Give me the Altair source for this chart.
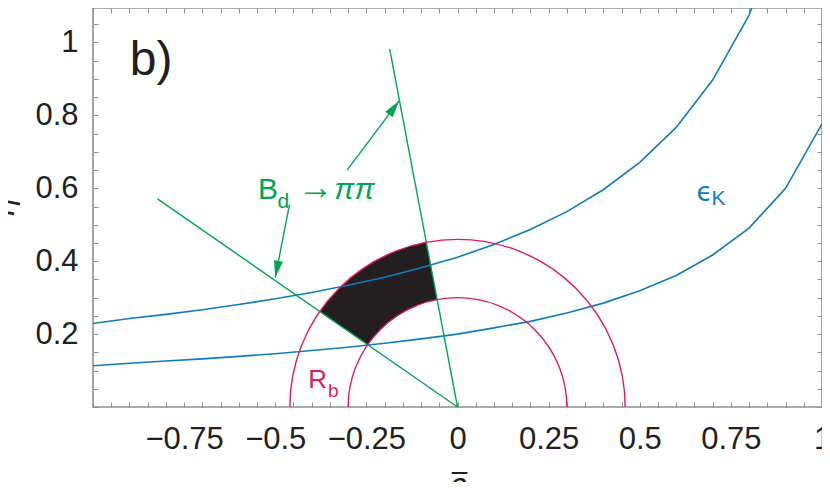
import math
import altair as alt
import pandas as pd

# ---------------- data ----------------
rho_grid = [-1.0, -0.9, -0.8, -0.7, -0.6, -0.5, -0.4, -0.3, -0.2, -0.1,
            0.0, 0.1, 0.2, 0.3, 0.4, 0.5, 0.6, 0.7, 0.8, 0.9, 1.0]
# epsilon_K hyperbolas (eta read at each rho of the grid)
eta_eps_upper = [0.229, 0.243, 0.254, 0.267, 0.281, 0.297, 0.314, 0.334, 0.356, 0.382,
                 0.411, 0.446, 0.487, 0.536, 0.596, 0.671, 0.767, 0.897, 1.075, 1.35]
eta_eps_lower = [0.113, 0.120, 0.126, 0.132, 0.139, 0.146, 0.155, 0.164, 0.175, 0.187,
                 0.200, 0.217, 0.235, 0.258, 0.285, 0.319, 0.361, 0.417, 0.491, 0.600, 0.777]

# B_d -> pi pi rays, both starting at the origin
ray_end_rho = [-0.823, -0.186]
ray_end_eta = [0.571, 0.982]

# R_b circles (centred at the origin)
rb_radii = [0.30, 0.46]

# annotation arrows
arrow_from_rho = [-0.303, -0.461]
arrow_from_eta = [0.650, 0.555]
arrow_to_rho = [-0.160, -0.500]
arrow_to_eta = [0.840, 0.355]

x_tick_values = [round(-1 + 0.05 * i, 2) for i in range(41)]
y_tick_values = [round(0.05 * i, 2) for i in range(22)]

BLUE = "#0f7cc2"
GREEN = "#00a651"
RED = "#e5195c"
INK = "#231f20"
FRAME = "#8f8f8f"

# text labels: text, rho, eta (left / baseline), font size, colour
label_text = ["b)", "B", "d", "\u2192", "R", "b", "K"]
label_rho = [-0.899, -0.547, -0.494, -0.438, -0.4095, -0.355, 0.697]
label_eta = [0.9116, 0.5714, 0.547, 0.5714, 0.0517, 0.0272, 0.555]
label_size = [48, 30, 21, 36, 26, 19, 21]
label_color = [INK, GREEN, GREEN, GREEN, RED, RED, BLUE]

W, H = 729, 399
X_MIN, X_MAX = -1.0, 1.0
PX_PER_UNIT = W / (X_MAX - X_MIN)
Y_MAX = H / PX_PER_UNIT

xs = alt.Scale(domain=[X_MIN, X_MAX], nice=False, zero=False)
ys = alt.Scale(domain=[0, Y_MAX], nice=False, zero=False)
rs = alt.Scale(type="linear", domain=[0, 1], range=[0, PX_PER_UNIT], nice=False)

# ---------------- tables ----------------
curves_df = pd.DataFrame({
    "rho": rho_grid[:len(eta_eps_upper)] + rho_grid,
    "eta": eta_eps_upper + eta_eps_lower,
    "curve": ["upper"] * len(eta_eps_upper) + ["lower"] * len(eta_eps_lower),
})

rays_df = pd.DataFrame({"x0": [0.0, 0.0], "y0": [0.0, 0.0],
                        "x1": ray_end_rho, "y1": ray_end_eta})


def vega_theta(x, y):
    return (math.pi / 2 - math.atan2(y, x)) % (2 * math.pi)


ray_thetas = sorted(vega_theta(x, y) for x, y in zip(ray_end_rho, ray_end_eta))
sector_df = pd.DataFrame({"cx": [0.0], "cy": [0.0],
                          "r_in": [min(rb_radii)], "r_out": [max(rb_radii)],
                          "t0": [ray_thetas[0]], "t1": [ray_thetas[1]]})

circles_df = pd.DataFrame({"cx": [0.0, 0.0], "cy": [0.0, 0.0], "r": rb_radii,
                           "t0": [0.0, 0.0], "t1": [2 * math.pi, 2 * math.pi]})

arrows_df = pd.DataFrame({"x0": arrow_from_rho, "y0": arrow_from_eta,
                          "x1": arrow_to_rho, "y1": arrow_to_eta})
arrows_df["angle"] = [
    math.degrees(math.atan2(x1 - x0, y1 - y0)) % 360
    for x0, y0, x1, y1 in zip(arrow_from_rho, arrow_from_eta, arrow_to_rho, arrow_to_eta)
]

labels_df = pd.DataFrame({"text": label_text, "x": label_rho, "y": label_eta,
                          "size": label_size, "color": label_color})
pipi_df = pd.DataFrame({"text": ["\u03c0\u03c0"], "x": [-0.338], "y": [0.5714]})
eps_df = pd.DataFrame({"text": ["\u03f5"], "x": [0.6558], "y": [0.566]})

# ---------------- axes ----------------
x_bottom = alt.Axis(
    orient="bottom", values=x_tick_values,
    labelExpr="abs(datum.value*4 - round(datum.value*4)) < 0.001 && datum.value > -0.999 ? format(datum.value, '.2~f') : ''",
    tickSize=5, offset=-5, tickColor=FRAME, tickWidth=1, domain=False, grid=False,
    labelFont="Liberation Sans", labelFontSize=31, labelColor=INK, labelPadding=17,
    labelFlush=False, labelOverlap=False, labelBound=False,
    title="\u03c1\u0305", titleFont="DejaVu Sans", titleFontSize=30, titleFontStyle="italic",
    titleFontWeight="normal", titleColor=INK, titleX=364, titleY=92,
    titleBaseline="alphabetic", titleAlign="center",
)
y_left = alt.Axis(
    orient="left", values=y_tick_values,
    labelExpr="abs(datum.value*5 - round(datum.value*5)) < 0.001 && datum.value > 0.001 ? format(datum.value, '.1~f') : ''",
    tickSize=5, offset=-5, tickColor=FRAME, tickWidth=1, domain=False, grid=False,
    labelFont="Liberation Sans", labelFontSize=31, labelColor=INK, labelPadding=15,
    labelOverlap=False, labelBound=False, labelFlush=False,
    title="\u03b7", titleFont="DejaVu Sans", titleFontSize=30, titleFontStyle="italic",
    titleFontWeight="normal", titleColor=INK, titleX=-94, titleY=199,
    titleBaseline="middle", titleAlign="center", titleAngle=270,
)
x_top = alt.Axis(orient="top", values=x_tick_values, labels=False, tickSize=5, offset=-5,
                 tickColor=FRAME, tickWidth=1, domain=False, grid=False, title=None)
y_right = alt.Axis(orient="right", values=y_tick_values, labels=False, tickSize=5, offset=-5,
                   tickColor=FRAME, tickWidth=1, domain=False, grid=False, title=None)

# ---------------- layers ----------------
sector = alt.Chart(sector_df).mark_arc(color=INK).encode(
    x=alt.X("cx:Q", scale=xs, axis=None),
    y=alt.Y("cy:Q", scale=ys, axis=None),
    radius=alt.Radius("r_out:Q", scale=rs),
    radius2=alt.Radius2("r_in:Q"),
    theta=alt.Theta("t0:Q", scale=None, stack=False),
    theta2=alt.Theta2("t1:Q"),
)

curves = alt.Chart(curves_df).mark_line(color=BLUE, strokeWidth=1.6, clip=True).encode(
    x=alt.X("rho:Q", scale=xs, axis=x_bottom),
    y=alt.Y("eta:Q", scale=ys, axis=y_left),
    detail="curve:N",
)

ghost = alt.Chart(curves_df).mark_point(opacity=0).encode(
    x=alt.X("rho:Q", scale=xs, axis=x_top),
    y=alt.Y("eta:Q", scale=ys, axis=y_right),
)

rays = alt.Chart(rays_df).mark_rule(color=GREEN, strokeWidth=1.4).encode(
    x=alt.X("x0:Q", scale=xs, axis=None), y=alt.Y("y0:Q", scale=ys, axis=None),
    x2="x1:Q", y2="y1:Q",
)

circles = alt.Chart(circles_df).mark_arc(fillOpacity=0, stroke=RED, strokeWidth=1.4, clip=True).encode(
    x=alt.X("cx:Q", scale=xs, axis=None),
    y=alt.Y("cy:Q", scale=ys, axis=None),
    radius=alt.Radius("r:Q", scale=rs),
    theta=alt.Theta("t0:Q", scale=None, stack=False),
    theta2=alt.Theta2("t1:Q"),
)

shafts = alt.Chart(arrows_df).mark_rule(color=GREEN, strokeWidth=1.4).encode(
    x=alt.X("x0:Q", scale=xs, axis=None), y=alt.Y("y0:Q", scale=ys, axis=None),
    x2="x1:Q", y2="y1:Q",
)

heads = alt.Chart(arrows_df).mark_point(
    shape="M0,0L0.27,1L-0.27,1Z", filled=True, size=1156, color=GREEN, opacity=1, strokeWidth=0
).encode(
    x=alt.X("x1:Q", scale=xs, axis=None), y=alt.Y("y1:Q", scale=ys, axis=None),
    angle=alt.Angle("angle:Q", scale=None),
)

labels = alt.Chart(labels_df).mark_text(align="left", baseline="alphabetic", font="Liberation Sans").encode(
    x=alt.X("x:Q", scale=xs, axis=None), y=alt.Y("y:Q", scale=ys, axis=None),
    text="text:N", size=alt.Size("size:Q", scale=None), color=alt.Color("color:N", scale=None),
)

pipi = alt.Chart(pipi_df).mark_text(align="left", baseline="alphabetic", font="Liberation Sans",
                                    fontStyle="italic", fontSize=30, color=GREEN).encode(
    x=alt.X("x:Q", scale=xs, axis=None), y=alt.Y("y:Q", scale=ys, axis=None), text="text:N",
)

eps = alt.Chart(eps_df).mark_text(align="left", baseline="alphabetic", font="DejaVu Sans",
                                  fontSize=26, color=BLUE).encode(
    x=alt.X("x:Q", scale=xs, axis=None), y=alt.Y("y:Q", scale=ys, axis=None), text="text:N",
)

chart = alt.layer(
    sector, curves, ghost, rays, circles, shafts, heads, labels, pipi, eps
).resolve_axis(
    x="independent", y="independent"
).properties(
    width=W, height=H,
    autosize=alt.AutoSizeParams(type="none"),
    padding={"left": 85, "top": 0, "right": 0, "bottom": 75},
).configure_view(
    stroke=FRAME, strokeWidth=1.6
)

chart.save("out.html", embed_options={"renderer": "svg", "actions": False})
